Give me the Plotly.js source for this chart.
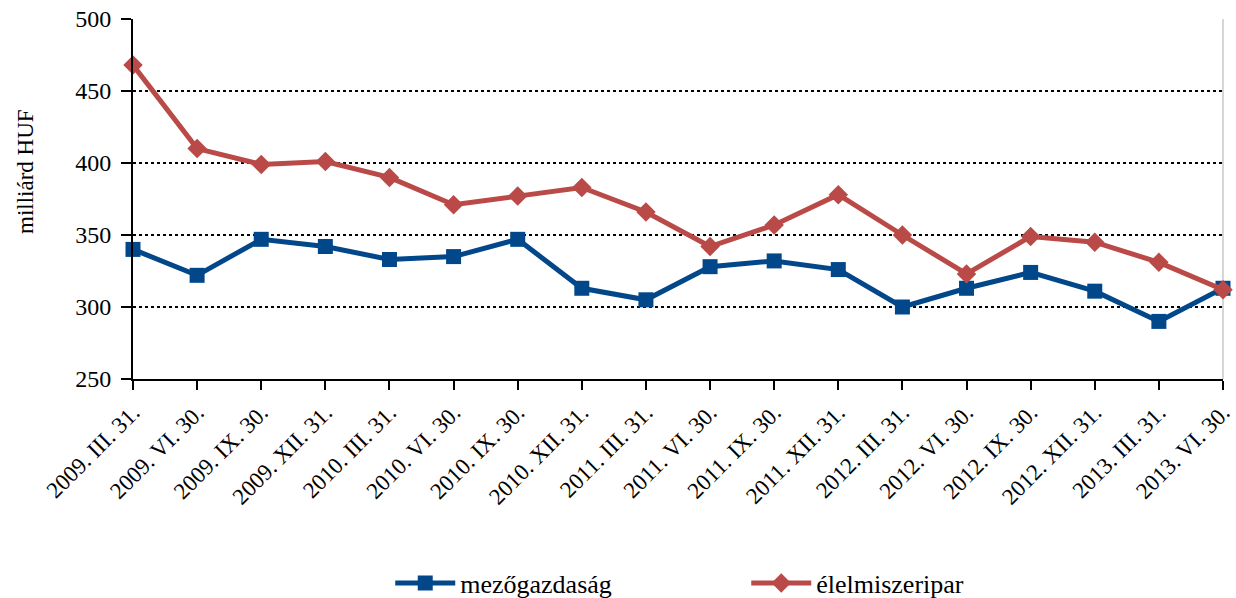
<!DOCTYPE html>
<html><head><meta charset="utf-8">
<script src="https://cdn.plot.ly/plotly-3.0.1.min.js"></script>
<style>html,body{margin:0;padding:0;background:#fff}</style>
</head><body>
<div id="chart" style="width:1236px;height:598px"></div>
<script>
const categories = ["2009. III. 31.","2009. VI. 30.","2009. IX. 30.","2009. XII. 31.","2010. III. 31.","2010. VI. 30.","2010. IX. 30.","2010. XII. 31.","2011. III. 31.","2011. VI. 30.","2011. IX. 30.","2011. XII. 31.","2012. III. 31.","2012. VI. 30.","2012. IX. 30.","2012. XII. 31.","2013. III. 31.","2013. VI. 30."];
const mezogazdasag = [340, 322, 347, 342, 333, 335, 347, 313, 305, 328, 332, 326, 300, 313, 324, 311, 290, 313];
const elelmiszeripar = [468, 410, 399, 401, 390, 371, 377, 383, 366, 342, 357, 378, 350, 323, 349, 345, 331, 312];
const yTicks = [250, 300, 350, 400, 450, 500];
const yTitle = "milliárd HUF";

const font = {family: "Liberation Serif", color: "#000"};
const traces = [
  {x: categories, y: mezogazdasag, name: "mezőgazdaság", type: "scatter", mode: "lines+markers", cliponaxis: false,
   line: {color: "#02478A", width: 5}, marker: {symbol: "square", size: 15, color: "#02478A"}},
  {x: categories, y: elelmiszeripar, name: "élelmiszeripar", type: "scatter", mode: "lines+markers", cliponaxis: false,
   line: {color: "#BA4A47", width: 5}, marker: {symbol: "diamond", size: 15, color: "#BA4A47"}}
];
const layout = {
  width: 1236, height: 598,
  margin: {l: 133, r: 13, t: 19, b: 219},
  paper_bgcolor: "#fff", plot_bgcolor: "#fff",
  font: Object.assign({size: 20}, font),
  showlegend: true,
  legend: {orientation: "h", xref: "paper", yref: "container", x: 0.236, xanchor: "left", y: 0.025, yanchor: "middle",
           font: Object.assign({size: 26}, font), entrywidth: 281, itemwidth: 60},
  xaxis: {type: "category", range: [0, categories.length - 1], tickangle: -45, automargin: false,
          showline: true, linecolor: "#000", linewidth: 2, mirror: false,
          ticks: "outside", ticklen: 9, tickwidth: 2, tickcolor: "#000",
          showgrid: false, zeroline: false,
          tickfont: Object.assign({size: 23}, font)},
  yaxis: {range: [250, 500], tickvals: yTicks, ticks: "outside", ticklen: 10, tickwidth: 2, tickcolor: "#000",
          showline: true, linecolor: "#000", linewidth: 2, automargin: false, ticklabelstandoff: 5,
          showgrid: true, gridcolor: "#000", gridwidth: 2, griddash: "3px,3px", zeroline: false,
          tickfont: Object.assign({size: 24}, font)},
  annotations: [{text: yTitle, textangle: -90, xref: "paper", yref: "paper",
                 x: (25 - 133) / 1090, y: (379 - 172) / 360, xanchor: "center", yanchor: "middle",
                 showarrow: false, font: Object.assign({size: 23}, font)}],
  shapes: [{type: "line", xref: "paper", yref: "paper", x0: 1, x1: 1, y0: 0, y1: 1,
            line: {color: "#c8c8c8", width: 1.5}, layer: "below"}]
};
Plotly.newPlot("chart", traces, layout, {displayModeBar: false, staticPlot: true});
</script>
</body></html>
